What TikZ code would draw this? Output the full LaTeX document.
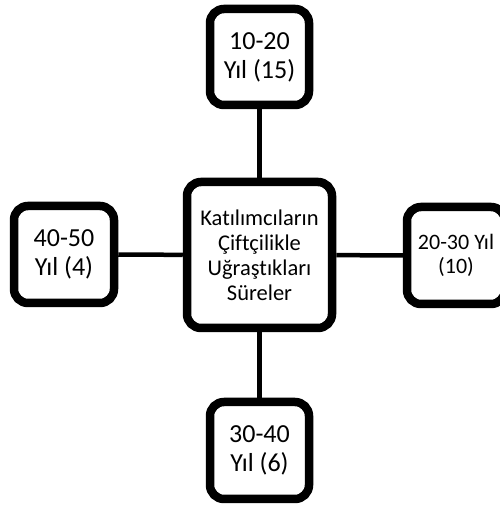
\documentclass[tikz,border=0pt]{standalone}
\usepackage{fontspec}
\setmainfont{Carlito}[Ligatures=NoCommon]
\usetikzlibrary{shadows}
\usetikzlibrary{backgrounds}

\begin{document}
\begin{tikzpicture}[x=1pt, y=1pt,
    box/.style={draw, line width=8.5pt, rounded corners=14pt, fill=white, align=center, inner sep=0pt,
      drop shadow={shadow xshift=1.5pt, shadow yshift=-2.5pt, opacity=0.25}},
    big/.style={font=\fontsize{26}{29}\selectfont},
    link/.style={line width=4.5pt}]
    \useasboundingbox (0,0) rectangle (499,505);

    \node [box, minimum width=145pt, minimum height=146pt, font=\fontsize{22.5}{25}\selectfont] (sure) at (259.5, 250) {Katılımcıların\\Çiftçilikle\\Uğraştıkları\\Süreler};
    \node [box, big, minimum width=99pt, minimum height=96pt] (y1020) at (259.5, 448) {10-20\\Yıl (15)};
    \node [box, minimum width=98pt, minimum height=97pt, font=\fontsize{22}{24}\selectfont] (y2030) at (456, 249.5) {20-30 Yıl\\(10)};
    \node [box, big, minimum width=99pt, minimum height=97pt] (y3040) at (259.5, 54.5) {30-40\\Yıl (6)};
    \node [box, big, minimum width=100pt, minimum height=97pt] (y4050) at (64, 250.5) {40-50\\Yıl (4)};

    \begin{scope}[on background layer]
        \draw [link] (sure) -- (y1020);
        \draw [link] (sure) -- (y2030);
        \draw [link] (sure) -- (y3040);
        \draw [link] (sure) -- (y4050);
    \end{scope}
\end{tikzpicture}
\end{document}
